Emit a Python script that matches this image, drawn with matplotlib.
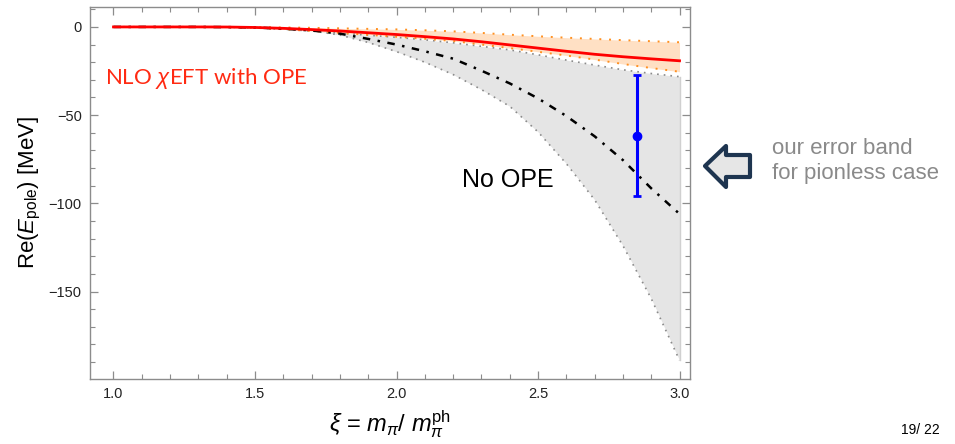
import matplotlib
matplotlib.use('Agg')
import matplotlib.pyplot as plt
from matplotlib.patches import Polygon
from matplotlib.ticker import MultipleLocator

plt.rcParams['font.family'] = ['Liberation Sans', 'DejaVu Sans']
plt.rcParams['mathtext.fontset'] = 'custom'
plt.rcParams['mathtext.rm'] = 'Liberation Sans'
plt.rcParams['mathtext.it'] = 'Liberation Sans:italic'

# valores
xi = [1.0, 1.1, 1.2, 1.3, 1.4, 1.5, 1.6, 1.7, 1.8, 1.9, 2.0,
      2.1, 2.2, 2.3, 2.4, 2.5, 2.6, 2.7, 2.8, 2.9, 3.0]
nlo_central = [0, 0, 0, 0, -0.05, -0.3, -0.8, -1.5, -2.3, -3.3, -4.3,
               -5.5, -6.8, -8.4, -10.2, -12.0, -13.8, -15.5, -16.9, -18.1, -19.2]
nlo_upper = [0, 0, 0, 0, 0, -0.1, -0.3, -0.5, -0.8, -1.1, -1.4,
             -1.9, -2.5, -3.4, -4.4, -5.3, -6.1, -6.8, -7.5, -8.1, -8.7]
nlo_lower = [0, 0, 0, 0, -0.1, -0.5, -1.3, -2.3, -3.4, -4.5, -5.6,
             -6.7, -8.0, -10.0, -12.0, -14.1, -16.2, -18.5, -21.0, -23.3, -25.4]
noope_central = [0, 0, 0, 0, -0.1, -0.3, -1.0, -2.0, -3.8, -6.8, -10.0,
                 -13.8, -18.0, -24.8, -32.0, -40.5, -50.5, -62.0, -75.5, -91.5, -106.0]
noope_upper = [0, 0, 0, 0, -0.1, -0.5, -1.3, -2.3, -3.5, -4.7, -5.9,
               -7.3, -9.0, -11.0, -13.0, -15.8, -18.8, -21.6, -24.3, -26.4, -28.2]
noope_lower = [0, 0, 0, 0, -0.1, -0.4, -1.1, -2.2, -4.6, -8.8, -14.0,
               -20.0, -27.0, -35.5, -45.0, -59.5, -77.5, -98.0, -124.0, -154.0, -189.0]

pionless_x = [2.85]
pionless_y = [-61.7]
pionless_err_lo = [34.1]
pionless_err_hi = [34.4]

fig = plt.figure(figsize=(9.55, 4.44), dpi=100)
ax = fig.add_axes([90/955, 1 - 379/444, 600/955, 372/444])

# banda sin OPE
ax.fill_between(xi, noope_lower, noope_upper, color='#e5e5e5', lw=0)
ax.plot(xi, noope_upper, color='#8a8a8a', lw=1.2, ls=(0, (1, 3)))
ax.plot(xi, noope_lower, color='#8a8a8a', lw=1.2, ls=(0, (1, 3)))
ax.plot([xi[-1], xi[-1]], [noope_lower[-1], noope_upper[-1]], color='#d0d0d0', lw=1)

# banda NLO con OPE
ax.fill_between(xi, nlo_lower, nlo_upper, color='#ffe0c4', lw=0)
ax.plot(xi, nlo_upper, color='#ff9020', lw=1.4, ls=(0, (1, 4)))
ax.plot(xi, nlo_lower, color='#ff9020', lw=1.4, ls=(0, (1, 4)))

ax.plot(xi, noope_central, color='black', lw=1.8, ls=(0, (3, 3, 1, 3)))
ax.plot(xi, nlo_central, color='#ff0000', lw=2)

ax.errorbar(pionless_x, pionless_y, yerr=[pionless_err_lo, pionless_err_hi],
            fmt='o', color='#0000ff', ms=6, lw=2.2, capsize=3, capthick=2)

ax.set_xlim(0.917, 3.037)
ax.set_ylim(-199.6, 11.3)
ax.xaxis.set_major_locator(MultipleLocator(0.5))
ax.xaxis.set_minor_locator(MultipleLocator(0.1))
ax.yaxis.set_major_locator(MultipleLocator(50))
ax.yaxis.set_minor_locator(MultipleLocator(10))
ax.xaxis.set_major_formatter(plt.FuncFormatter(lambda v, p: f'{v:.1f}'))
ax.yaxis.set_major_formatter(plt.FuncFormatter(lambda v, p: f'\u2212{-v:.0f}' if v < 0 else f'{v:.0f}'))
ax.tick_params(which='both', direction='in', top=True, right=True,
               color='#8c8c8c', labelcolor='#222222', labelsize=10.5)
ax.tick_params(which='major', length=6, width=0.9, pad=6)
ax.tick_params(which='minor', length=3.5, width=0.8)
for s in ax.spines.values():
    s.set_color('#8c8c8c')
    s.set_linewidth(1.0)

ax.set_xlabel(r'$\xi$ = $m_\pi$/ $m_\pi^{\mathrm{ph}}$', fontsize=17, labelpad=5)
ax.set_ylabel(r'Re($E_{\mathrm{pole}}$) [MeV]', fontsize=16, labelpad=4)

ax.text(0.97, -29, r'NLO $\chi$EFT with OPE', color='#ff2a12', fontsize=16,
        family=['Lato', 'DejaVu Sans'], va='center', ha='left')
ax.text(2.23, -87, 'No OPE', color='black', fontsize=18, va='center', ha='left')

# flecha y nota a la derecha
arrow_px = [(705, 166), (726, 146), (726, 155), (750, 155),
            (750, 177), (726, 177), (726, 187)]
arrow = Polygon([(x/955, 1 - y/444) for x, y in arrow_px], closed=True,
                transform=fig.transFigure, facecolor='#e6e6e6',
                edgecolor='#1e3550', lw=3, joinstyle='round')
fig.patches.append(arrow)
fig.text(772/955, 1 - 161/444, 'our error band\nfor pionless case', color='#8a8a8a',
         fontsize=16, va='center', ha='left', linespacing=1.3)
fig.text(920/955, 1 - 430/444, '19/ 22', color='black', fontsize=10,
         va='center', ha='center')

plt.savefig('out.png', dpi=100)
